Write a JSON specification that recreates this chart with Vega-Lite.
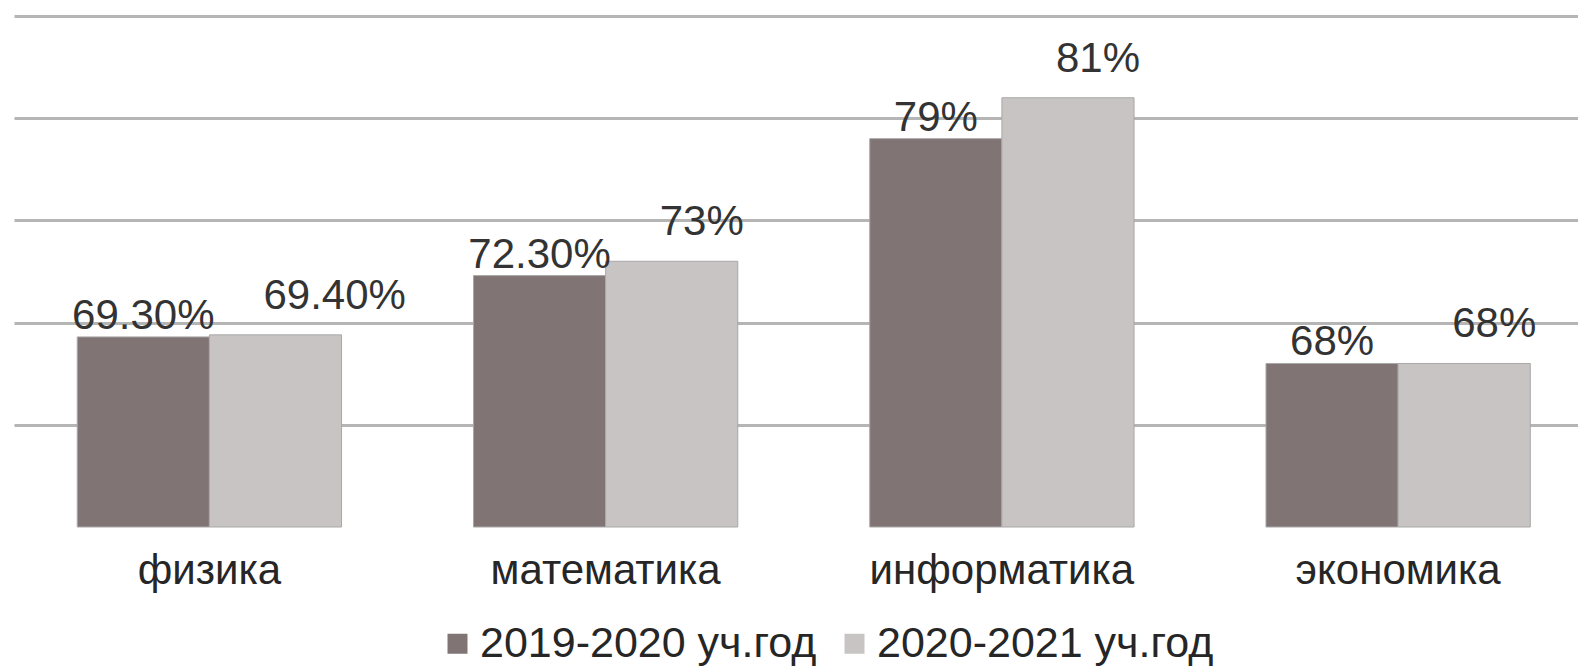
{
  "$schema": "https://vega.github.io/schema/vega-lite/v6.json",
  "width": 1564,
  "height": 511,
  "autosize": {"type": "none"},
  "padding": {"left": 14, "top": 16, "right": 0, "bottom": 140},
  "background": "white",
  "config": {
    "view": {"stroke": null},
    "font": "Liberation Sans",
    "text": {"font": "Liberation Sans"}
  },
  "data": {
    "values": [
      {"subject": "физика", "year": "2019-2020 уч.год", "value": 69.3, "label": "69.30%"},
      {"subject": "физика", "year": "2020-2021 уч.год", "value": 69.4, "label": "69.40%"},
      {"subject": "математика", "year": "2019-2020 уч.год", "value": 72.3, "label": "72.30%"},
      {"subject": "математика", "year": "2020-2021 уч.год", "value": 73, "label": "73%"},
      {"subject": "информатика", "year": "2019-2020 уч.год", "value": 79, "label": "79%"},
      {"subject": "информатика", "year": "2020-2021 уч.год", "value": 81, "label": "81%"},
      {"subject": "экономика", "year": "2019-2020 уч.год", "value": 68, "label": "68%"},
      {"subject": "экономика", "year": "2020-2021 уч.год", "value": 68, "label": "68%"}
    ]
  },
  "encoding": {
    "x": {
      "field": "subject",
      "type": "nominal",
      "sort": ["физика", "математика", "информатика", "экономика"],
      "scale": {"paddingInner": 0.333, "paddingOuter": 0.14, "align": 0.57},
      "axis": {
        "title": null,
        "domain": false,
        "ticks": false,
        "labelAngle": 0,
        "labelFontSize": 42,
        "labelColor": "#262626",
        "labelPadding": 23,
        "labelLimit": 0,
        "labelFont": "Liberation Sans"
      }
    },
    "xOffset": {"field": "year", "type": "nominal", "sort": ["2019-2020 уч.год", "2020-2021 уч.год"]},
    "y": {
      "field": "value",
      "type": "quantitative",
      "scale": {"domain": [60, 85], "nice": false, "zero": false},
      "axis": {
        "title": null,
        "domain": false,
        "ticks": false,
        "labels": false,
        "grid": true,
        "values": [65, 70, 75, 80, 85],
        "gridColor": "#b5b5b5",
        "gridWidth": 3
      }
    }
  },
  "layer": [
    {
      "mark": {"type": "bar", "stroke": "#a8a8a8", "strokeWidth": 1},
      "encoding": {
        "y2": {"datum": 60},
        "color": {
          "field": "year",
          "type": "nominal",
          "scale": {"domain": ["2019-2020 уч.год", "2020-2021 уч.год"], "range": ["#807474", "#c9c4c4"]},
          "legend": {
            "title": null,
            "orient": "none",
            "direction": "horizontal",
            "legendX": 422,
            "legendY": 606,
            "symbolType": "square",
            "symbolSize": 400,
            "symbolStrokeWidth": 0,
            "labelFontSize": 43,
            "labelFont": "Liberation Sans",
            "labelColor": "#262626",
            "labelOffset": 1,
            "columnPadding": 16,
            "labelLimit": 600
          }
        }
      }
    },
    {
      "transform": [{"filter": "datum.year === '2019-2020 уч.год'"}],
      "mark": {"type": "text", "baseline": "alphabetic", "dy": -8, "fontSize": 42, "color": "#333333"},
      "encoding": {"text": {"field": "label"}}
    },
    {
      "transform": [{"filter": "datum.year === '2020-2021 уч.год'"}],
      "mark": {"type": "text", "baseline": "alphabetic", "align": "left", "dx": -12, "dy": -26, "fontSize": 42, "color": "#333333"},
      "encoding": {"text": {"field": "label"}}
    }
  ]
}
